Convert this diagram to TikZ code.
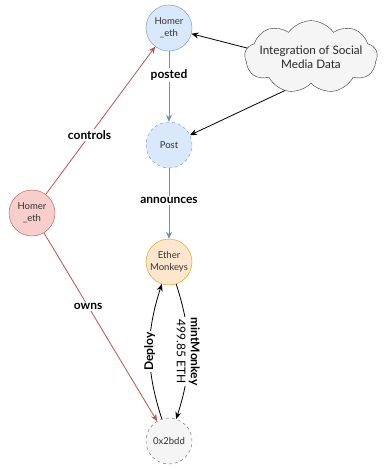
\documentclass[tikz,border=0pt]{standalone}
\usepackage{fontspec}
\setmainfont{Lato}
\usetikzlibrary{shapes.symbols,arrows.meta}
\definecolor{bluefill}{HTML}{DAE8FC}
\definecolor{bluedraw}{HTML}{6C8EBF}
\definecolor{orangefill}{HTML}{FFE6CC}
\definecolor{orangedraw}{HTML}{D79B00}
\definecolor{redfill}{HTML}{F8CECC}
\definecolor{reddraw}{HTML}{B85450}
\definecolor{grayfill}{HTML}{F5F5F5}
\definecolor{graydraw}{HTML}{666666}
\begin{document}
\begin{tikzpicture}[x=1pt,y=-1pt,
  ent/.style={circle,minimum size=46pt,inner sep=1pt,align=center,
    font=\fontsize{9.5}{12}\selectfont,text=black!80},
  bluent/.style={ent,draw=bluedraw,fill=bluefill},
  redent/.style={ent,draw=reddraw,fill=redfill},
  orangeent/.style={ent,draw=orangedraw,fill=orangefill},
  addrent/.style={ent,draw=graydraw,fill=grayfill,dashed},
  lbl/.style={fill=white,inner sep=1.5pt,font=\fontsize{12}{14}\selectfont\bfseries},
  arr/.style={-{Stealth[length=7pt,width=6pt]},line width=0.8pt},
  bluearr/.style={arr,draw=bluedraw},
  redarr/.style={arr,draw=reddraw},
  blkarr/.style={arr,draw=black}
]
\useasboundingbox (0,0) rectangle (388,469);

% entities
\node[bluent] (homertop) at (169,28) {Homer\\\_eth};
\node[bluent,dashed] (post) at (169,145) {Post};
\node[orangeent] (ether) at (169,262) {Ether\\Monkeys};
\node[addrent] (addr) at (169,441) {0x2bdd};
\node[redent] (homerleft) at (32,213) {Homer\\\_eth};
\node[cloud,cloud puffs=9,cloud puff arc=110,aspect=2.5,draw=black!80,
  fill=grayfill,align=center,inner sep=-5pt,
  font=\fontsize{11.7}{14}\selectfont,text=black!85] (cloud) at (311,57)
  {Integration of Social\\Media Data};

% social data links
\draw[blkarr] (cloud.172) -- (homertop);
\draw[blkarr] (cloud.232) -- (post);

% posting chain
\draw[bluearr] (homertop) -- node[lbl,pos=0.34]{posted} (post);
\draw[bluearr] (post) -- node[lbl,pos=0.46]{announces} (ether);

% ownership
\draw[redarr] (homerleft) -- node[lbl,pos=0.4]{controls} (homertop);
\draw[redarr] (homerleft) -- node[lbl,pos=0.39]{owns} (addr);

% contract interactions
\draw[blkarr] (ether) to[bend left=18] node[fill=white,inner sep=1pt,rotate=-90,align=center,
  font=\fontsize{12}{14}\selectfont]{\textbf{mintMonkey}\\499.85 ETH} (addr);
\draw[blkarr] (addr) to[bend left=18] node[lbl,rotate=90]{Deploy} (ether);
\end{tikzpicture}
\end{document}
